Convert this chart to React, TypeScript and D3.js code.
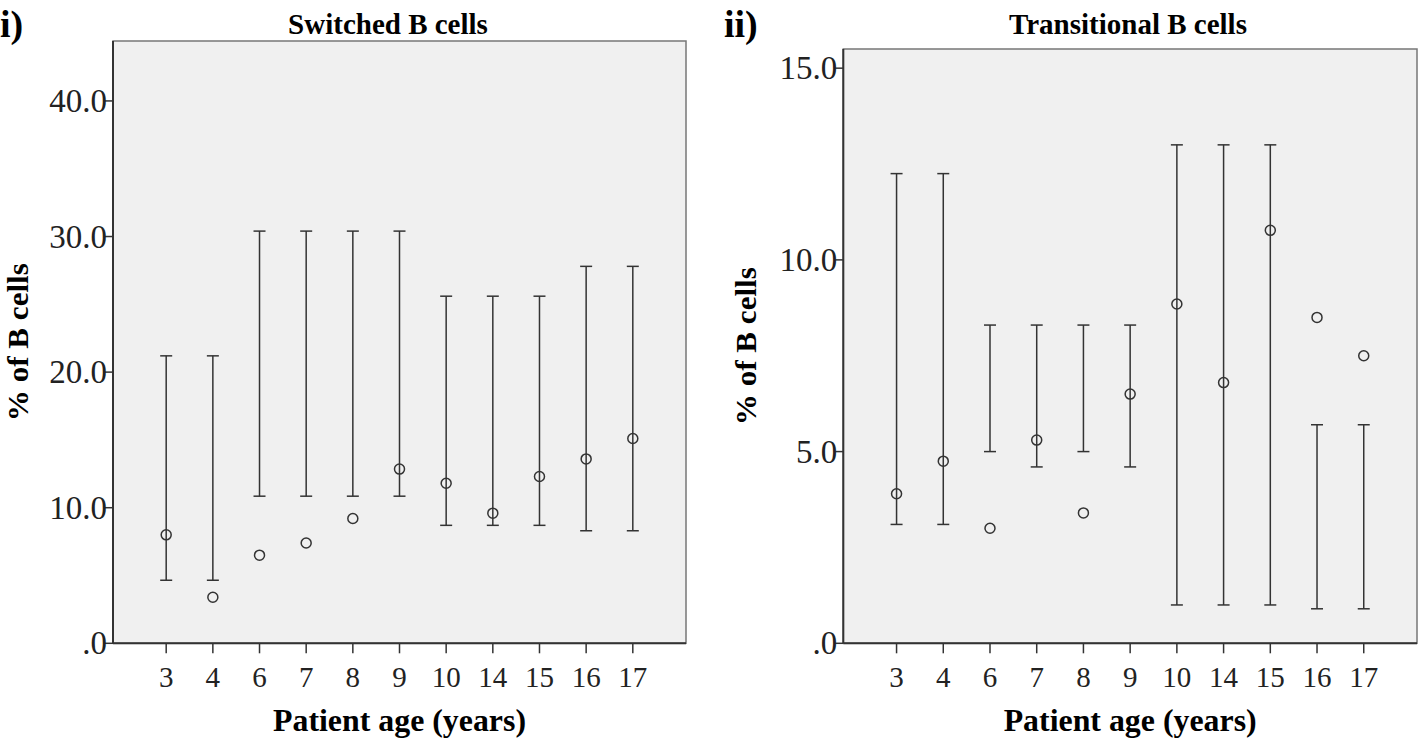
import React from "react";
import * as d3 from "d3";

const ages = ["3", "4", "6", "7", "8", "9", "10", "14", "15", "16", "17"];

const switchedMean = [8.0, 3.4, 6.5, 7.4, 9.2, 12.85, 11.8, 9.6, 12.3, 13.6, 15.1];
const switchedLow = [4.65, 4.65, 10.85, 10.85, 10.85, 10.85, 8.7, 8.7, 8.7, 8.3, 8.3];
const switchedHigh = [21.2, 21.2, 30.4, 30.4, 30.4, 30.4, 25.6, 25.6, 25.6, 27.8, 27.8];

const transMean = [3.9, 4.75, 3.0, 5.3, 3.4, 6.5, 8.85, 6.8, 10.77, 8.5, 7.5];
const transLow = [3.1, 3.1, 5.0, 4.6, 5.0, 4.6, 1.0, 1.0, 1.0, 0.9, 0.9];
const transHigh = [12.25, 12.25, 8.3, 8.3, 8.3, 8.3, 13.0, 13.0, 13.0, 5.7, 5.7];

const switchedTicks = [0, 10, 20, 30, 40];
const transTicks = [0, 5, 10, 15];

const fmt = (v: number) => (v === 0 ? ".0" : v.toFixed(1));

const FONT = "'Liberation Serif', 'Times New Roman', serif";

type PanelProps = {
  label: string;
  title: string;
  titleX: number;
  x0: number;
  x1: number;
  yTop: number;
  yBottom: number;
  yMax: number;
  ticks: number[];
  mean: number[];
  low: number[];
  high: number[];
  labelX: number;
  yTitleX: number;
};

function Panel(p: PanelProps) {
  const x = d3.scalePoint<string>().domain(ages).range([p.x0, p.x1]).padding(1.14);
  const y = d3.scaleLinear().domain([0, p.yMax]).range([p.yBottom, p.yTop]);
  const cx = (p.x0 + p.x1) / 2;
  const cy = (p.yTop + p.yBottom) / 2;
  const stroke = "#333";
  return (
    <g>
      <text x={p.labelX} y={37} fontFamily={FONT} fontWeight="bold" fontSize={38}>
        {p.label}
      </text>
      <text x={p.titleX} y={34} textAnchor="middle" fontFamily={FONT} fontWeight="bold" fontSize={29}>
        {p.title}
      </text>
      <rect
        x={p.x0}
        y={p.yTop}
        width={p.x1 - p.x0}
        height={p.yBottom - p.yTop}
        fill="#f0f0f0"
        stroke="#777"
        strokeWidth={1.5}
      />
      <line x1={p.x0} x2={p.x0} y1={p.yTop} y2={p.yBottom} stroke="#333" strokeWidth={2} />
      <line x1={p.x0} x2={p.x1} y1={p.yBottom} y2={p.yBottom} stroke="#333" strokeWidth={2} />
      {p.ticks.map((t) => (
        <g key={t}>
          <line x1={p.x0 - 8} x2={p.x0} y1={y(t)} y2={y(t)} stroke="#333" strokeWidth={1.5} />
          <text
            x={p.x0 - 6}
            y={y(t) + 11}
            textAnchor="end"
            fontFamily={FONT}
            fontSize={33}
            fill="#222"
          >
            {fmt(t)}
          </text>
        </g>
      ))}
      {ages.map((a) => (
        <g key={a}>
          <line x1={x(a)} x2={x(a)} y1={p.yBottom} y2={p.yBottom + 10} stroke="#333" strokeWidth={1.5} />
          <text x={x(a)} y={p.yBottom + 44} textAnchor="middle" fontFamily={FONT} fontSize={29} fill="#222">
            {a}
          </text>
        </g>
      ))}
      {ages.map((a, i) => (
        <g key={"e" + a} stroke={stroke} strokeWidth={1.5} fill="none">
          <line x1={x(a)} x2={x(a)} y1={y(p.low[i])} y2={y(p.high[i])} />
          <line x1={x(a)! - 6} x2={x(a)! + 6} y1={y(p.low[i])} y2={y(p.low[i])} />
          <line x1={x(a)! - 6} x2={x(a)! + 6} y1={y(p.high[i])} y2={y(p.high[i])} />
        </g>
      ))}
      {ages.map((a, i) => (
        <circle key={"c" + a} cx={x(a)} cy={y(p.mean[i])} r={5} fill="none" stroke={stroke} strokeWidth={1.5} />
      ))}
      <text
        x={cx}
        y={731}
        textAnchor="middle"
        fontFamily={FONT}
        fontWeight="bold"
        fontSize={32}
        textLength={253}
        lengthAdjust="spacingAndGlyphs"
      >
        Patient age (years)
      </text>
      <text
        transform={`translate(${p.yTitleX},${cy}) rotate(-90)`}
        textAnchor="middle"
        fontFamily={FONT}
        fontWeight="bold"
        fontSize={29}
        textLength={158}
        lengthAdjust="spacingAndGlyphs"
      >
        % of B cells
      </text>
    </g>
  );
}

export default function App() {
  return (
    <svg
      width={1418}
      height={741}
      style={{ position: "absolute", left: 0, top: 0, background: "#fff" }}
    >
      <Panel
        label="i)"
        title="Switched B cells"
        titleX={388}
        x0={113}
        x1={686}
        yTop={41}
        yBottom={643.3}
        yMax={44.42}
        ticks={switchedTicks}
        mean={switchedMean}
        low={switchedLow}
        high={switchedHigh}
        labelX={0}
        yTitleX={28}
      />
      <Panel
        label="ii)"
        title="Transitional B cells"
        titleX={1128}
        x0={843.3}
        x1={1417}
        yTop={49}
        yBottom={643.3}
        yMax={15.5}
        ticks={transTicks}
        mean={transMean}
        low={transLow}
        high={transHigh}
        labelX={724}
        yTitleX={756}
      />
    </svg>
  );
}
